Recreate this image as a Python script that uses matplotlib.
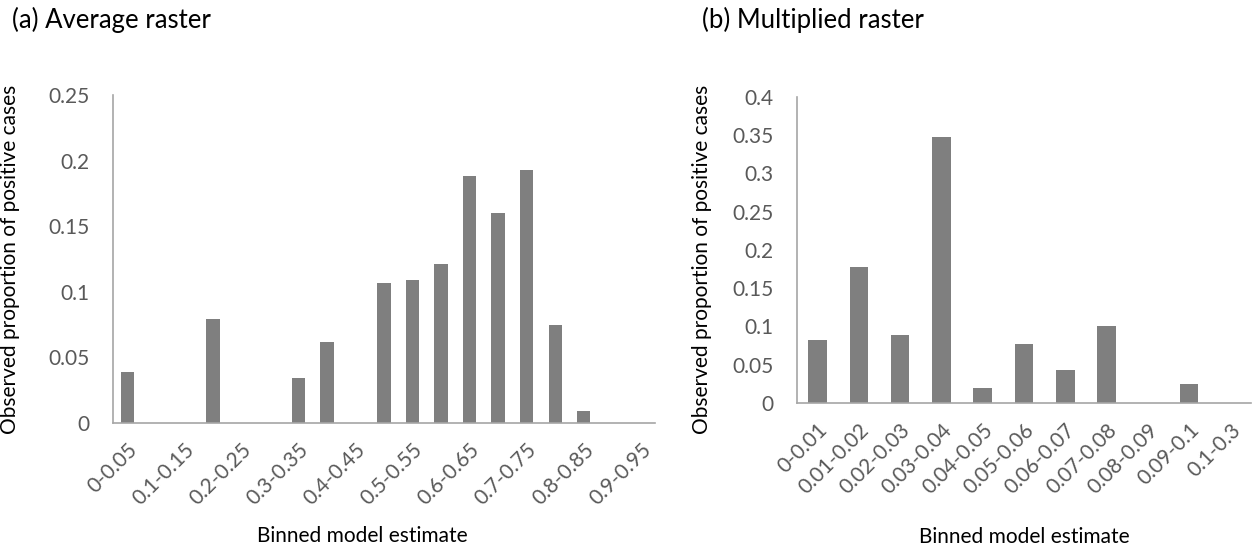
import matplotlib
matplotlib.use("Agg")
import matplotlib.pyplot as plt
import numpy as np

plt.rcParams["font.family"] = ["Lato", "DejaVu Sans"]

# (a) Average raster
avg_bins = ["0-0.05", "0.05-0.1", "0.1-0.15", "0.15-0.2", "0.2-0.25", "0.25-0.3",
            "0.3-0.35", "0.35-0.4", "0.4-0.45", "0.45-0.5", "0.5-0.55", "0.55-0.6",
            "0.6-0.65", "0.65-0.7", "0.7-0.75", "0.75-0.8", "0.8-0.85", "0.85-0.9",
            "0.9-0.95"]
avg_values = [0.039, 0, 0, 0.079, 0, 0, 0.034, 0.062, 0, 0.107, 0.109, 0.121,
              0.188, 0.160, 0.193, 0.075, 0.009, 0, 0]

# (b) Multiplied raster
mult_bins = ["0-0.01", "0.01-0.02", "0.02-0.03", "0.03-0.04", "0.04-0.05", "0.05-0.06",
             "0.06-0.07", "0.07-0.08", "0.08-0.09", "0.09-0.1", "0.1-0.3"]
mult_values = [0.082, 0.178, 0.089, 0.348, 0.019, 0.077, 0.043, 0.101, 0, 0.025, 0]

BAR = "#7F7F7F"
SPINE = "#A6A6A6"
TICK = "#595959"

fig = plt.figure(figsize=(12.53, 5.51), dpi=100)
ax1 = fig.add_axes([0.0902, 0.2323, 0.4326, 0.5953])
ax2 = fig.add_axes([0.6361, 0.2686, 0.3623, 0.5554])


def style(ax, labels, values, ymax, ystep, label_every, width):
    x = np.arange(len(labels))
    ax.bar(x, values, width=width, color=BAR)
    ax.set_xlim(-0.5, len(labels) - 0.5)
    ax.set_ylim(0, ymax)
    ticks = np.arange(0, ymax + 1e-9, ystep)
    ax.set_yticks(ticks)
    ax.set_yticklabels([f"{v:g}" for v in ticks], fontsize=15)
    ax.set_xticks(x[::label_every])
    ax.set_xticklabels(labels[::label_every], rotation=45, ha="right",
                       rotation_mode="anchor", fontsize=15)
    for s in ("top", "right"):
        ax.spines[s].set_visible(False)
    for s in ("left", "bottom"):
        ax.spines[s].set_color(SPINE)
        ax.spines[s].set_linewidth(1.2)
    ax.tick_params(axis="both", length=0, colors=TICK)
    ax.tick_params(axis="y", pad=17)
    ax.tick_params(axis="x", pad=12)
    ax.set_ylabel("Observed proportion of positive cases", fontsize=15)
    ax.set_xlabel("Binned model estimate", fontsize=15)


style(ax1, avg_bins, avg_values, 0.25, 0.05, 2, 0.47)
style(ax2, mult_bins, mult_values, 0.4, 0.05, 1, 0.45)

ax1.yaxis.set_label_coords(-0.172, 0.5)
ax1.xaxis.set_label_coords(0.459, -0.315)
ax2.yaxis.set_label_coords(-0.187, 0.47)
ax2.xaxis.set_label_coords(0.5, -0.405)

fig.text(0.0096, 0.963, "(a) Average raster", fontsize=18.5, va="center")
fig.text(0.560, 0.963, "(b) Multiplied raster", fontsize=18.5, va="center")

fig.savefig("out.png", dpi=100)
